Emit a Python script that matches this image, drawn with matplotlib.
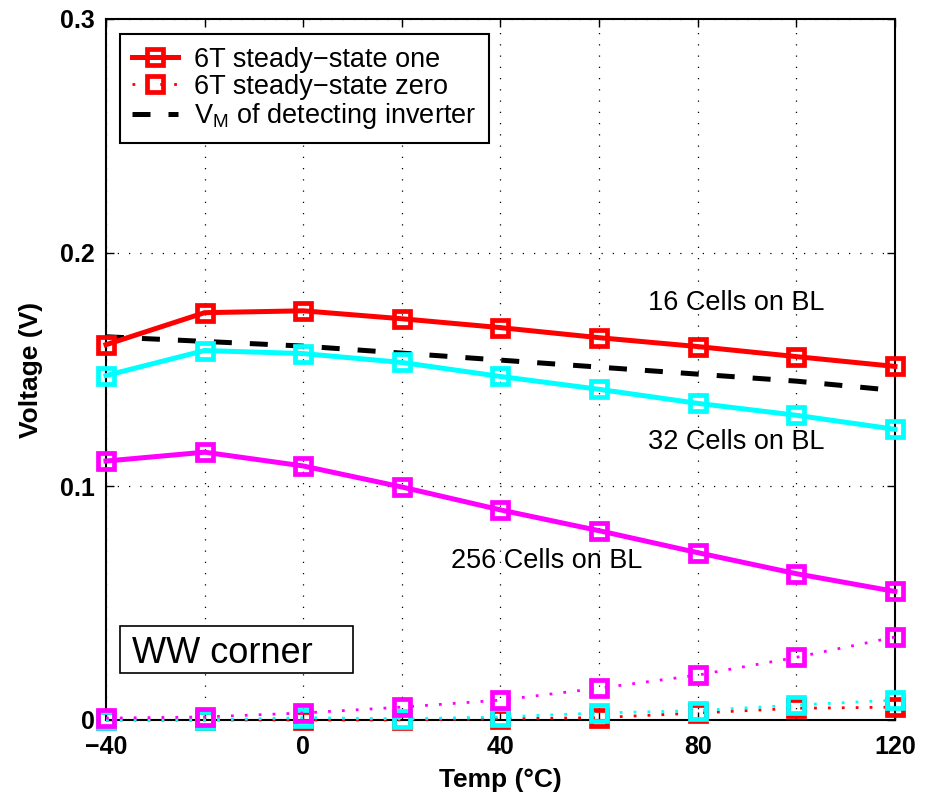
import matplotlib.pyplot as plt
from matplotlib.patches import Rectangle

plt.rcParams['font.family'] = ['Liberation Sans', 'DejaVu Sans']

# temperature points (deg C)
temps = [-40, -20, 0, 20, 40, 60, 80, 100, 120]

# steady-state one (solid lines)
one_16 = [0.1606, 0.1743, 0.1751, 0.1717, 0.1679, 0.1636, 0.1598, 0.1555, 0.1513]
one_32 = [0.1474, 0.1581, 0.1568, 0.1530, 0.1470, 0.1415, 0.1355, 0.1304, 0.1244]
one_256 = [0.1108, 0.1146, 0.1087, 0.0997, 0.0899, 0.0810, 0.0716, 0.0626, 0.0550]

# steady-state zero (dotted lines)
zero_16 = [0.0, 0.0, 0.0, 0.0, 0.0005, 0.001, 0.003, 0.005, 0.0055]
zero_32 = [0.0, 0.0, 0.001, 0.0005, 0.0013, 0.003, 0.004, 0.0064, 0.0085]
zero_256 = [0.0008, 0.0013, 0.003, 0.0055, 0.0085, 0.0136, 0.0192, 0.0268, 0.0355]

# switching threshold of detecting inverter
vm = [0.164, 0.162, 0.160, 0.157, 0.154, 0.151, 0.148, 0.145, 0.141]

fig = plt.figure(figsize=(9.28, 7.96), dpi=100)
ax = fig.add_axes([0.1142, 0.0955, 0.8502, 0.8807])

mk = dict(marker='s', markersize=12, markerfacecolor='none', markeredgewidth=3.4, clip_on=False)
dot = (0, (1, 4))
dash = (0, (3.6, 3.6))

ax.plot(temps, zero_16, color='red', linestyle=dot, linewidth=2, **mk)
ax.plot(temps, zero_32, color='cyan', linestyle=dot, linewidth=2, **mk)
ax.plot(temps, zero_256, color='magenta', linestyle=dot, linewidth=2, **mk)

ax.plot(temps, vm, color='black', linestyle=dash, linewidth=3.6)

ax.plot(temps, one_16, color='red', linewidth=3.6, **mk)
ax.plot(temps, one_32, color='cyan', linewidth=3.6, **mk)
ax.plot(temps, one_256, color='magenta', linewidth=3.6, **mk)

ax.set_xlim(-40, 120)
ax.set_ylim(0, 0.3)
ax.set_xticks(temps)
ax.set_xticklabels(['\u221240', '', '0', '', '40', '', '80', '', '120'])
ax.set_yticks([0, 0.1, 0.2, 0.3])
ax.set_yticklabels(['0', '0.1', '0.2', '0.3'])
ax.tick_params(direction='in', top=True, right=True, length=6, width=1, labelsize=18)
ax.tick_params(axis='x', pad=11)
ax.tick_params(axis='y', pad=8)
for lab in ax.get_xticklabels() + ax.get_yticklabels():
    lab.set_fontweight('bold')
ax.grid(True, color='black', linestyle=(0, (1, 8)), linewidth=0.9)
ax.set_axisbelow(True)
for s in ax.spines.values():
    s.set_linewidth(1.5)
    s.set_zorder(1.5)

ax.set_xlabel('Temp (\u00b0C)', fontsize=19, fontweight='bold', labelpad=6)
ax.set_ylabel('Voltage (V)', fontsize=19, fontweight='bold', labelpad=12)

ax.text(87.9, 0.1755, '16 Cells on BL', fontsize=19.5, ha='center', va='baseline')
ax.text(87.9, 0.1159, '32 Cells on BL', fontsize=19.5, ha='center', va='baseline')
ax.text(49.4, 0.0652, '256 Cells on BL', fontsize=19.5, ha='center', va='baseline')

# corner label box
ax.add_patch(Rectangle((-37.16, 0.0201), 47.25, 0.0201, facecolor='white',
                       edgecolor='black', linewidth=1.2, zorder=4))
ax.text(-34.7, 0.0244, 'WW corner', fontsize=26, ha='left', va='baseline', zorder=5)

# legend proxies
h1, = ax.plot([], [], color='red', linewidth=3.6, **mk)
h2, = ax.plot([], [], color='red', linestyle=dot, linewidth=2, **mk)
h3, = ax.plot([], [], color='black', linestyle=dash, linewidth=3.6)
leg = ax.legend([h1, h2, h3],
                ['6T steady\u2212state one', '6T steady\u2212state zero',
                 '$\\mathregular{V_M}$ of detecting inverter'],
                loc='upper left', bbox_to_anchor=(0.0176, 0.978), borderaxespad=0,
                fontsize=19.5, fancybox=False, framealpha=1, edgecolor='black',
                handlelength=1.7, borderpad=0.45, labelspacing=0.05, handletextpad=0.6)
leg.get_frame().set_linewidth(1.5)
leg.set_zorder(6)

fig.savefig('out.png', dpi=100)
